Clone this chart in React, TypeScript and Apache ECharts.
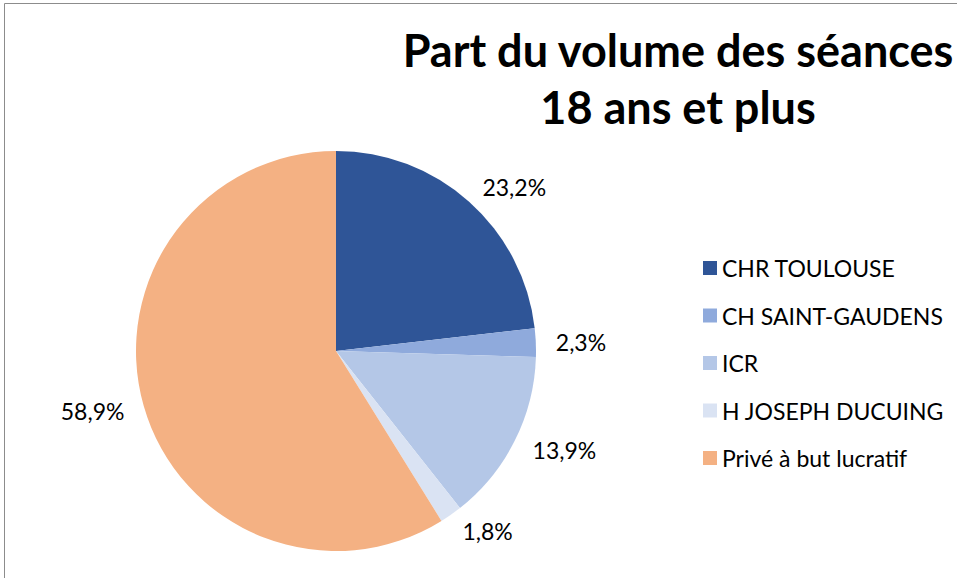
import React, { useEffect, useRef } from "react";
import * as echarts from "echarts";

const categories = ["CHR TOULOUSE", "CH SAINT-GAUDENS", "ICR", "H JOSEPH DUCUING", "Privé à but lucratif"];
const values = [23.2, 2.3, 13.9, 1.8, 58.9];
const colors = ["#2F5597", "#8FAADC", "#B4C7E7", "#DAE3F3", "#F4B183"];
const titleText = "Part du volume des séances\n18 ans et plus";

export default function App() {
  const ref = useRef<HTMLDivElement>(null);
  useEffect(() => {
    if (!ref.current) return;
    const chart = echarts.init(ref.current, null, { renderer: "svg" });
    chart.setOption({
      animation: false,
      backgroundColor: "#ffffff",
      title: {
        text: titleText,
        left: 673,
        top: 16,
        textAlign: "center",
        textStyle: {
          fontFamily: "Lato",
          fontWeight: "bold",
          fontSize: 45,
          lineHeight: 57,
          color: "#000000",
          align: "center",
        },
      },
      legend: {
        orient: "vertical",
        left: 703,
        top: 256.5,
        padding: 0,
        itemWidth: 14,
        itemHeight: 14,
        itemGap: 24.5,
        icon: "rect",
        textStyle: { fontFamily: "Lato", fontSize: 23, color: "#000000", lineHeight: 23 },
        data: categories,
      },
      graphic: [
        {
          type: "rect",
          shape: { x: 4.5, y: 3.5, width: 1000, height: 700 },
          style: { fill: "none", stroke: "#8c8c8c", lineWidth: 1 },
          silent: true,
          z: -1,
        },
      ],
      series: [
        {
          type: "pie",
          center: [336, 351],
          radius: 200,
          startAngle: 90,
          clockwise: true,
          avoidLabelOverlap: false,
          label: {
            show: true,
            position: "outside",
            fontFamily: "Lato",
            fontSize: 23,
            color: "#000000",
            distanceToLabelLine: 0,
            formatter: (p: any) => `${Number(p.value).toFixed(1).replace(".", ",")}%`,
          },
          labelLine: { show: false, length: 20, length2: 0 },
          itemStyle: { borderWidth: 0 },
          emphasis: { disabled: true },
          data: categories.map((name, i) => ({ name, value: values[i], itemStyle: { color: colors[i] } })),
        },
      ],
    });
    return () => chart.dispose();
  }, []);
  return <div ref={ref} style={{ position: "fixed", left: 0, top: 0, width: 957, height: 578 }} />;
}
